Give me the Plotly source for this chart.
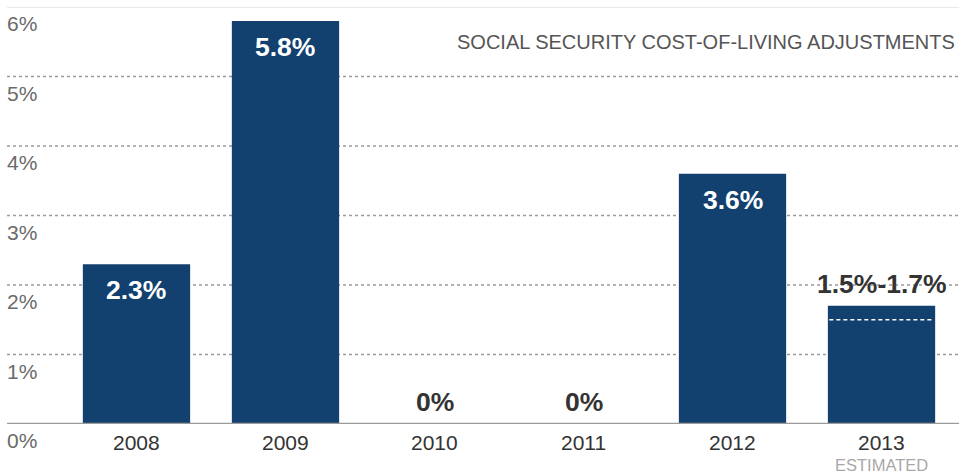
import plotly.graph_objects as go

years = ["2008", "2009", "2010", "2011", "2012", "2013"]
cola = [2.3, 5.8, 0.0, 0.0, 3.6, 1.7]
bar_labels = ["2.3%", "5.8%", "0%", "0%", "3.6%", "1.5%-1.7%"]
label_inside = [True, True, False, False, True, False]
estimate_low = 1.5
estimate_index = 5
y_ticks = [0, 1, 2, 3, 4, 5, 6]
y_tick_labels = ["0%", "1%", "2%", "3%", "4%", "5%", "6%"]
title_text = "SOCIAL SECURITY COST-OF-LIVING ADJUSTMENTS"
sub_label = "ESTIMATED"

BAR = "#12416f"
FONT = "Arial, Liberation Sans, sans-serif"

xs = list(range(len(years)))
fig = go.Figure()
fig.add_trace(go.Bar(x=xs, y=cola, marker=dict(color=BAR, line=dict(width=0)),
                     width=0.72, hoverinfo="skip"))

ann = []
for i, (v, t, ins) in enumerate(zip(cola, bar_labels, label_inside)):
    if ins:
        ann.append(dict(x=i, y=v, xref="x", yref="y", text="<b>%s</b>" % t, showarrow=False,
                        yanchor="top", yshift=-9, font=dict(family=FONT, size=26.5, color="white")))
    else:
        ann.append(dict(x=i, y=v, xref="x", yref="y", text="<b>%s</b>" % t, showarrow=False,
                        yanchor="bottom", yshift=5, font=dict(family=FONT, size=26.5, color="#333333")))
    ann.append(dict(x=i, y=0, xref="x", yref="y", text=years[i], showarrow=False,
                    yanchor="top", yshift=-5, font=dict(family=FONT, size=21, color="#333333")))
ann.append(dict(x=estimate_index, y=0, xref="x", yref="y", text=sub_label, showarrow=False,
                yanchor="top", yshift=-30, font=dict(family=FONT, size=16.5, color="#a8a8a8")))
for v, t in zip(y_ticks, y_tick_labels):
    ann.append(dict(x=0, y=v, xref="paper", yref="y", text=t, showarrow=False,
                    xanchor="left", yanchor="top", xshift=-2, yshift=-3,
                    font=dict(family=FONT, size=21, color="#6a6a6a")))
ann.append(dict(x=1, y=6, xref="paper", yref="y", text=title_text, showarrow=False,
                xanchor="right", yanchor="top", xshift=-2, yshift=-22,
                font=dict(family=FONT, size=20, color="#555555")))

shapes = []
for v in y_ticks[1:-1]:
    shapes.append(dict(type="line", xref="paper", yref="y", x0=0, x1=1, y0=v, y1=v,
                       line=dict(color="#9a9a9a", width=1.5, dash="dot"), layer="below"))
shapes.append(dict(type="line", xref="paper", yref="y", x0=0, x1=1, y0=6, y1=6,
                   line=dict(color="#e2e2e2", width=1.5), layer="below"))
shapes.append(dict(type="line", xref="paper", yref="y", x0=0, x1=1, y0=0, y1=0,
                   line=dict(color="#9a9a9a", width=2.5)))
shapes.append(dict(type="line", xref="x", yref="y", x0=estimate_index - 0.35, x1=estimate_index + 0.35,
                   y0=estimate_low, y1=estimate_low, line=dict(color="white", width=1.5, dash="4px,3px")))

fig.update_layout(
    width=959, height=474,
    margin=dict(l=7, r=0, t=7, b=50),
    paper_bgcolor="white", plot_bgcolor="white",
    showlegend=False,
    xaxis=dict(range=[-0.869, 5.52], showticklabels=False, showgrid=False, zeroline=False,
               fixedrange=True),
    yaxis=dict(range=[0, 6], showticklabels=False, showgrid=False, zeroline=False,
               fixedrange=True),
    annotations=ann, shapes=shapes,
)
fig.write_html("out.html", config={"displayModeBar": False},
               post_script="document.body.style.margin='0';document.body.style.overflow='hidden';")
